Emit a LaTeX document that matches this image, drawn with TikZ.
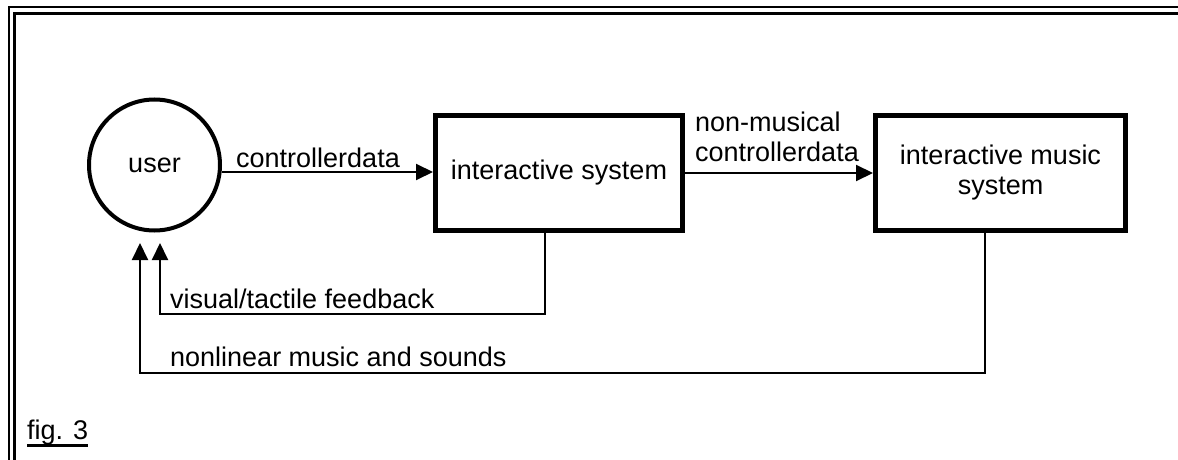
\documentclass[tikz,border=0pt]{standalone}
\usepackage{fontspec}
\setmainfont{Liberation Sans}
\usetikzlibrary{arrows.meta}

\begin{document}
\begin{tikzpicture}[x=1pt,y=-1pt,
  every node/.style={font=\fontsize{27}{30}\selectfont, inner sep=0pt},
  userbox/.style={circle, draw, line width=4pt, minimum size=131pt},
  sysbox/.style={draw, line width=5pt, minimum height=115pt, align=center},
  flow/.style={line width=2pt, -{Triangle[length=17pt,width=16pt]}},
  label/.style={anchor=west},
  frame/.style={line cap=butt}
]
\useasboundingbox (0,0) rectangle (1178,460);

% double frame along the top and left edges
\draw[frame, line width=2.6pt] (9,460) -- (9,7) -- (1178,7);
\draw[frame, line width=2.8pt] (14.5,460) -- (14.5,13.5) -- (1178,13.5);

% nodes
\node[userbox] (user) at (154.5,165) {user};
\node[sysbox, minimum width=247pt] (isys) at (559,173) {interactive system};
\node[sysbox, minimum width=250pt] (imus) at (1000.5,173) {interactive music\\system};

% forward data flow
\draw[flow] (user.east |- 0,172) -- (isys.west |- 0,172);
\node at (318,158) {controllerdata};
\draw[flow] (isys.east |- 0,173) -- (imus.west |- 0,173);
\node[align=left, anchor=west] at (695,137) {non-musical\\controllerdata};

% feedback paths
\coordinate (fbA) at (545,314);
\coordinate (tipA) at (160,243);
\coordinate (fbB) at (985,373);
\coordinate (tipB) at (140,243);
\draw[flow] (isys.south -| fbA) -- (fbA) -| (tipA);
\draw[flow] (imus.south -| fbB) -- (fbB) -| (tipB);
\node[label] at (170,299) {visual/tactile feedback};
\node[label] at (170,357) {nonlinear music and sounds};

% caption with a heavy underline
\node[anchor=base west] (cap) at (27,439) {fig. 3};
\draw[line width=3pt] ([yshift=-6pt]cap.base west) -- ([yshift=-6pt]cap.base east);
\end{tikzpicture}
\end{document}
